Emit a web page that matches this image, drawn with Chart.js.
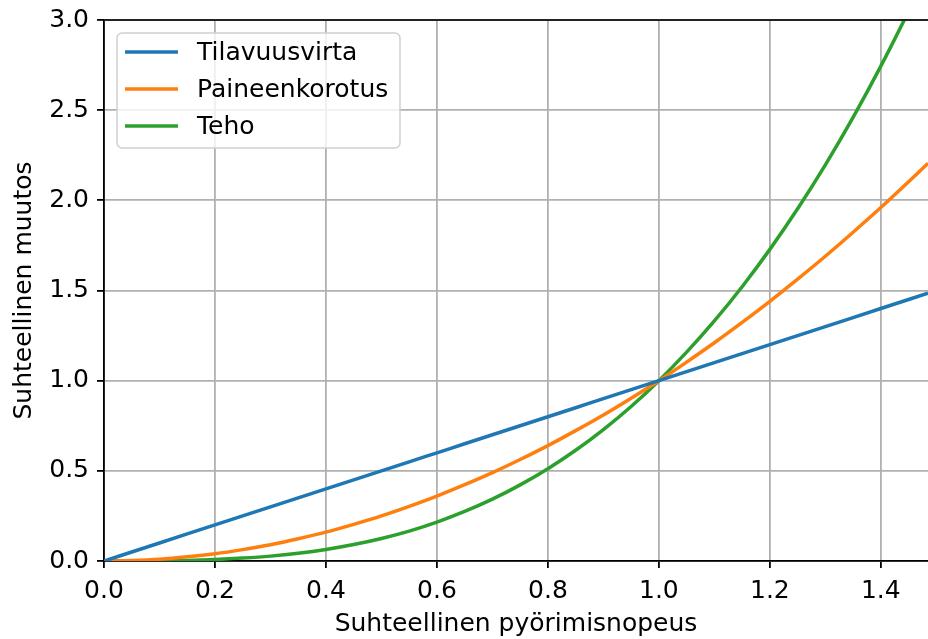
<!DOCTYPE html>
<html>
<head>
<meta charset="utf-8">
<script src="https://cdn.jsdelivr.net/npm/chart.js@4"></script>
<style>
  html, body { margin: 0; padding: 0; background: #ffffff; }
  #wrap { width: 928px; height: 639px; }
</style>
</head>
<body>
<div id="wrap"><canvas id="c" width="928" height="639"></canvas></div>
<script>
// Relative rotational speed (x)
const speed = [0, 0.05, 0.1, 0.15, 0.2, 0.25, 0.3, 0.35, 0.4, 0.45, 0.5, 0.55, 0.6, 0.65, 0.7, 0.75,
  0.8, 0.85, 0.9, 0.95, 1.0, 1.05, 1.1, 1.15, 1.2, 1.25, 1.3, 1.35, 1.4, 1.45, 1.485];
// Tilavuusvirta
const flow = [0, 0.05, 0.1, 0.15, 0.2, 0.25, 0.3, 0.35, 0.4, 0.45, 0.5, 0.55, 0.6, 0.65, 0.7, 0.75,
  0.8, 0.85, 0.9, 0.95, 1.0, 1.05, 1.1, 1.15, 1.2, 1.25, 1.3, 1.35, 1.4, 1.45, 1.485];
// Paineenkorotus
const pressure = [0, 0.003, 0.01, 0.023, 0.04, 0.063, 0.09, 0.123, 0.16, 0.203, 0.25, 0.303, 0.36, 0.423,
  0.49, 0.563, 0.64, 0.723, 0.81, 0.903, 1.0, 1.103, 1.21, 1.323, 1.44, 1.563, 1.69, 1.823, 1.96, 2.103, 2.205];
// Teho
const power = [0, 0.0001, 0.001, 0.003, 0.008, 0.016, 0.027, 0.043, 0.064, 0.091, 0.125, 0.166, 0.216, 0.275,
  0.343, 0.422, 0.512, 0.614, 0.729, 0.857, 1.0, 1.158, 1.331, 1.521, 1.728, 1.953, 2.197, 2.460, 2.744, 3.049, 3.275];

const seriesNames = ['Tilavuusvirta', 'Paineenkorotus', 'Teho'];
const seriesColors = ['#1f77b4', '#ff7f0e', '#2ca02c'];
const xTitle = 'Suhteellinen pyörimisnopeus';
const yTitle = 'Suhteellinen muutos';

const FONT = 'DejaVu Sans';
const FS = 25;
const toPts = (ys) => ys.map((y, i) => ({ x: speed[i], y: y }));

const legendPlugin = {
  id: 'mplLegend',
  afterDraw(chart) {
    const ctx = chart.ctx;
    const a = chart.chartArea;
    // top spine
    ctx.save();
    ctx.strokeStyle = '#222';
    ctx.lineWidth = 1.8;
    ctx.beginPath();
    ctx.moveTo(a.left, a.top);
    ctx.lineTo(a.right, a.top);
    ctx.stroke();
    // legend box
    const bx = a.left + 13, by = a.top + 13, bw = 283, bh = 115;
    ctx.fillStyle = 'rgba(255,255,255,0.8)';
    ctx.strokeStyle = '#d0d0d0';
    ctx.lineWidth = 1.5;
    ctx.beginPath();
    ctx.roundRect(bx, by, bw, bh, 5);
    ctx.fill();
    ctx.stroke();
    ctx.font = FS + 'px "' + FONT + '"';
    ctx.textBaseline = 'middle';
    ctx.textAlign = 'left';
    chart.data.datasets.forEach((ds, i) => {
      const cy = by + 19 + i * 37;
      ctx.strokeStyle = ds.borderColor;
      ctx.lineWidth = 3.5;
      ctx.beginPath();
      ctx.moveTo(bx + 8, cy);
      ctx.lineTo(bx + 61, cy);
      ctx.stroke();
      ctx.fillStyle = '#000';
      ctx.fillText(ds.label, bx + 80, cy + 1);
    });
    ctx.restore();
  }
};

new Chart(document.getElementById('c'), {
  type: 'line',
  data: {
    datasets: [
      { label: seriesNames[0], data: toPts(flow), borderColor: seriesColors[0] },
      { label: seriesNames[1], data: toPts(pressure), borderColor: seriesColors[1] },
      { label: seriesNames[2], data: toPts(power), borderColor: seriesColors[2] }
    ].map(d => Object.assign(d, {
      borderWidth: 3.5, pointRadius: 0, fill: false, cubicInterpolationMode: 'monotone'
    }))
  },
  options: {
    responsive: false,
    animation: false,
    layout: { padding: { top: 20, right: 0, left: 0, bottom: 0 } },
    plugins: { legend: { display: false }, tooltip: { enabled: false } },
    scales: {
      x: {
        type: 'linear', min: 0, max: 1.485,
        afterFit(s) { s.height = 78; s.paddingLeft = 0; s.paddingRight = 0; },
        ticks: {
          stepSize: 0.2, includeBounds: false, padding: 8, color: '#000',
          font: { family: FONT, size: FS },
          maxRotation: 0,
          callback: v => v.toFixed(1)
        },
        grid: { color: '#b0b0b0', lineWidth: 1.8, tickColor: '#000', tickLength: 7, tickWidth: 1.8 },
        border: { color: '#000', width: 1.8 },
        title: { display: true, text: xTitle, color: '#000', font: { family: FONT, size: FS }, padding: { top: 0, bottom: 0 } }
      },
      y: {
        type: 'linear', min: 0, max: 3,
        afterFit(s) { s.width = 104; s.paddingTop = 0; s.paddingBottom = 0; },
        ticks: {
          stepSize: 0.5, padding: 8, color: '#000',
          font: { family: FONT, size: FS },
          callback: v => v.toFixed(1)
        },
        grid: { color: '#b0b0b0', lineWidth: 1.8, tickColor: '#000', tickLength: 7, tickWidth: 1.8 },
        border: { color: '#000', width: 1.8 },
        title: { display: true, text: yTitle, color: '#000', font: { family: FONT, size: FS }, padding: { top: 9, bottom: 0 } }
      }
    }
  },
  plugins: [legendPlugin]
});
</script>
</body>
</html>
